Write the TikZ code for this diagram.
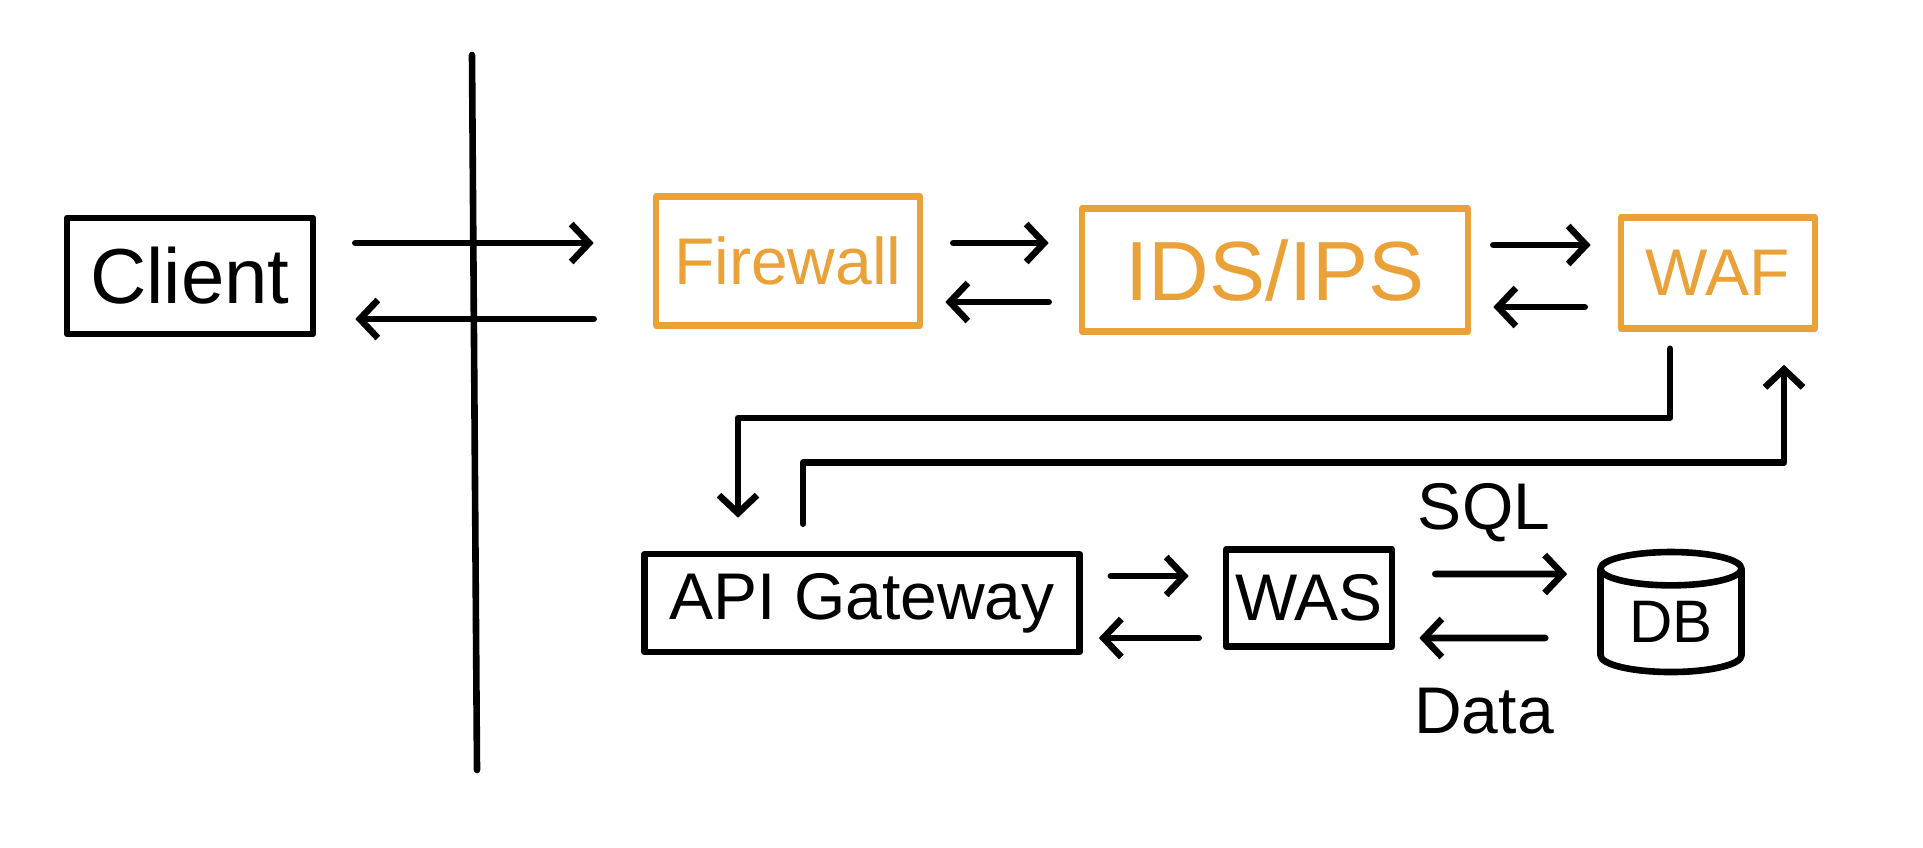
\documentclass[tikz,border=0pt]{standalone}
\usepackage{fontspec}
\setmainfont{Liberation Sans}
\usetikzlibrary{arrows.meta,shapes.geometric}
\definecolor{boxorange}{RGB}{234,162,56}

\begin{document}
\begin{tikzpicture}[x=0.5pt, y=-0.5pt, line width=3.3pt, line cap=round, line join=round,
    every node/.style={font=\fontsize{33}{40}\selectfont, inner sep=0pt},
    box/.style={draw, rectangle},
    fwbox/.style={box, draw=boxorange, text=boxorange},
    arr/.style={-{Straight Barb[length=9pt, width=19pt]}}]
            \useasboundingbox (0,0) rectangle (1923,847);

            \node[box, minimum width=123pt, minimum height=58pt, font=\fontsize{39}{44}\selectfont] (client) at (190,276) {Client};
            \node[fwbox, minimum width=132pt, minimum height=64.5pt] (firewall) at (788,261) {Firewall};
            \node[fwbox, minimum width=193pt, minimum height=61.5pt, font=\fontsize{42}{48}\selectfont] (ids) at (1275,270) {IDS/IPS};
            \node[fwbox, minimum width=97pt, minimum height=55.5pt] (waf) at (1718,273) {WAF};
            \node[box, minimum width=217.5pt, minimum height=49pt] (api) at (862,603) {API Gateway};
            \node[box, minimum width=83pt, minimum height=48.5pt] (was) at (1309,598) {WAS};
            \node[draw, cylinder, shape border rotate=90, aspect=0.4, minimum width=70.5pt, minimum height=60pt, font=\fontsize{30}{36}\selectfont] (db) at (1671,622) {DB};
            \node (sql) at (1484,513) {SQL};
            \node (data) at (1484,711) {Data};

            \draw (472,55) -- (477,770);

            \draw[arr, shorten <=19.5pt, shorten >=29.5pt] ([yshift=16.5pt]client.east) -- ([yshift=9pt]firewall.west);
            \draw[arr, shorten <=29.5pt, shorten >=19.5pt] ([yshift=-29pt]firewall.west) -- ([yshift=-21.5pt]client.east);
            \draw[arr, shorten <=15pt, shorten >=15pt] ([yshift=9pt]firewall.east) -- ([yshift=13.5pt]ids.west);
            \draw[arr, shorten <=15pt, shorten >=11pt] ([yshift=-16pt]ids.west) -- ([yshift=-20.5pt]firewall.east);
            \draw[arr, shorten <=11pt, shorten >=13.5pt] ([yshift=12.5pt]ids.east) -- ([yshift=14pt]waf.west);
            \draw[arr, shorten <=16.5pt, shorten >=11pt] ([yshift=-17pt]waf.west) -- ([yshift=-18.5pt]ids.east);
            \draw[arr] ([xshift=-24pt, yshift=-8.5pt]waf.south) -- ++(0,69) -| ([xshift=-62pt, yshift=16.5pt]api.north);
            \draw[arr] ([xshift=-29.5pt, yshift=13.5pt]api.north) -- ++(0,-61) -| ([xshift=33pt, yshift=-16.5pt]waf.south);
            \draw[arr, shorten <=14pt, shorten >=17pt] ([yshift=13.5pt]api.east) -- ([yshift=11pt]was.west);
            \draw[arr, shorten <=12pt, shorten >=8pt] ([yshift=-20pt]was.west) -- ([yshift=-17.5pt]api.east);
            \draw[arr, shorten <=20pt, shorten >=15pt] ([yshift=12pt]was.east) -- ([yshift=24pt]db.west);
            \draw[arr, shorten <=26pt, shorten >=12pt] ([yshift=-8pt]db.west) -- ([yshift=-20pt]was.east);
        \end{tikzpicture}
\end{document}
